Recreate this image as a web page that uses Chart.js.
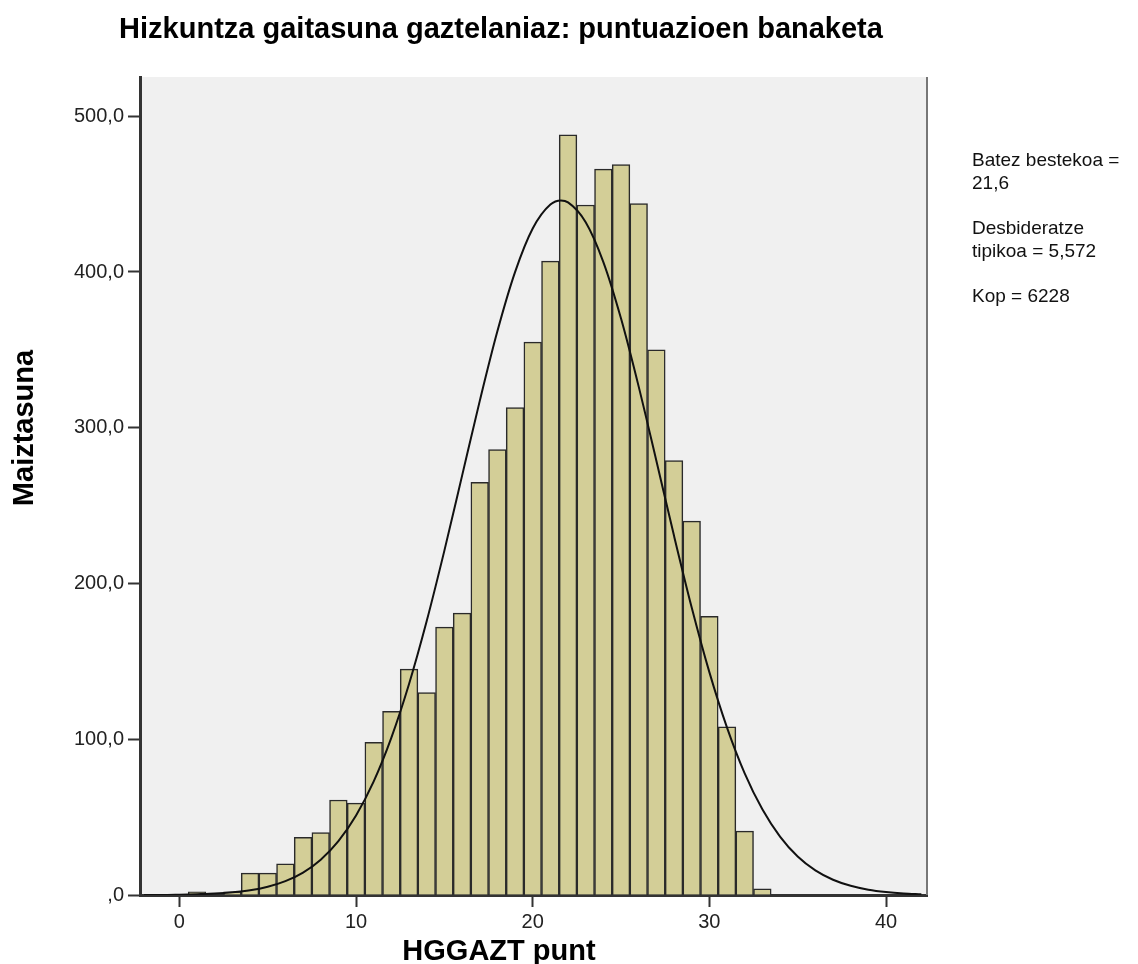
<!DOCTYPE html>
<html>
<head>
<meta charset="utf-8">
<script src="https://cdn.jsdelivr.net/npm/chart.js@4"></script>
<style>
    html, body { margin: 0; padding: 0; background: #ffffff; }
    #wrap { width: 1138px; height: 964px; position: relative; }
</style>
</head>
<body>
<div id="wrap"><canvas id="histChart" width="1138" height="964"></canvas></div>
<script>
// Histogram bins (score value) and counts
const binValues = [1, 3, 4, 5, 6, 7, 8, 9, 10, 11, 12, 13, 14, 15, 16, 17, 18, 19, 20,
    21, 22, 23, 24, 25, 26, 27, 28, 29, 30, 31, 32, 33];
const binCounts = [2, 2, 14, 14, 20, 37, 40, 61, 59, 98, 118, 145, 130, 172, 181, 265, 286, 313, 355,
    407, 488, 443, 466, 469, 444, 350, 279, 240, 179, 108, 41, 4];

// Normal curve as drawn over the bars (read at each score)
const curveX = [-2, -1, 0, 1, 2, 3, 4, 5, 6, 7, 8, 9, 10, 11, 12, 13, 14, 15, 16, 17, 18, 19, 20,
    21, 21.6, 22, 23, 24, 25, 26, 27, 28, 29, 30, 31, 32, 33, 34, 35, 36, 37, 38, 39, 40, 41, 42];
const curveY = [0, 0, 0.2, 0.5, 0.9, 1.7, 3.0, 5.3, 8.9, 14.4, 22.7, 34.6, 51.1, 73.0, 101.1, 135.5,
    175.9, 221.1, 269.1, 317.1, 361.9, 399.9, 427.9, 443.3, 445.9, 444.7, 432.0, 406.4, 370.1, 326.4,
    278.8, 230.6, 184.6, 143.1, 107.5, 78.1, 55.0, 37.5, 24.7, 15.8, 9.8, 5.9, 3.4, 1.9, 1.0, 0.5];

// Axis ranges and labels
const xTicks = [0, 10, 20, 30, 40];
const yTicks = [0, 100, 200, 300, 400, 500];
const xMin = -2.23;
const xMax = 42.32;
const yMax = 525.2;

const chartTitle = 'Hizkuntza gaitasuna gaztelaniaz: puntuazioen banaketa';
const xTitle = 'HGGAZT punt';
const yTitle = 'Maiztasuna';
const statLines = [
    ['Batez bestekoa =', '21,6'],
    ['Desbideratze', 'tipikoa = 5,572'],
    ['Kop = 6228']
];

const FONT = '"Liberation Sans", Arial, sans-serif';

// Plot background, right border and the free text around the plot
const decorPlugin = {
    id: 'decor',
    beforeDraw(chart) {
        const { ctx, chartArea } = chart;
        ctx.save();
        ctx.fillStyle = '#f0f0f0';
        ctx.fillRect(chartArea.left, chartArea.top, chartArea.right - chartArea.left, chartArea.bottom - chartArea.top);
        ctx.restore();
    },
    afterDraw(chart) {
        const { ctx, chartArea } = chart;
        ctx.save();
        // right frame line
        ctx.strokeStyle = '#777777';
        ctx.lineWidth = 2;
        ctx.beginPath();
        ctx.moveTo(chartArea.right, chartArea.top);
        ctx.lineTo(chartArea.right, chartArea.bottom);
        ctx.stroke();

        ctx.fillStyle = '#000000';
        ctx.font = 'bold 29px ' + FONT;
        ctx.textAlign = 'center';
        ctx.textBaseline = 'alphabetic';
        ctx.fillText(chartTitle, 501, 38);
        ctx.fillText(xTitle, 499, 960);

        ctx.save();
        ctx.translate(33, 428);
        ctx.rotate(-Math.PI / 2);
        ctx.fillText(yTitle, 0, 0);
        ctx.restore();

        ctx.font = '19px ' + FONT;
        ctx.textAlign = 'left';
        ctx.fillStyle = '#111111';
        let y = 166;
        statLines.forEach(group => {
            group.forEach(line => {
                ctx.fillText(line, 972, y);
                y += 23;
            });
            y += 22;
        });
        ctx.restore();
    }
};

function renderChart() {
    const ctx = document.getElementById('histChart').getContext('2d');
    new Chart(ctx, {
        data: {
            datasets: [{
                type: 'line',
                data: curveX.map((x, i) => ({ x: x, y: curveY[i] })),
                borderColor: '#111111',
                borderWidth: 2,
                pointRadius: 0,
                cubicInterpolationMode: 'monotone',
                order: 0
            }, {
                type: 'bar',
                data: binValues.map((x, i) => ({ x: x, y: binCounts[i] })),
                backgroundColor: '#d3ce97',
                borderColor: '#2a2a2a',
                borderWidth: 1.5,
                barPercentage: 1,
                categoryPercentage: 1,
                order: 1
            }]
        },
        options: {
            responsive: false,
            animation: false,
            layout: { padding: { left: 0, top: 77, right: 211, bottom: 0 } },
            plugins: {
                legend: { display: false },
                tooltip: { enabled: false }
            },
            scales: {
                x: {
                    type: 'linear',
                    min: xMin,
                    max: xMax,
                    offset: false,
                    afterBuildTicks: scale => { scale.ticks = xTicks.map(v => ({ value: v })); },
                    afterFit: scale => { scale.height = 69; },
                    grid: { offset: false, drawOnChartArea: false, drawTicks: true, tickLength: 12, tickColor: '#333333', tickWidth: 2 },
                    border: { display: true, color: '#333333', width: 3 },
                    ticks: {
                        color: '#222222',
                        font: { family: FONT, size: 20 },
                        padding: 3,
                        maxRotation: 0
                    }
                },
                y: {
                    min: 0,
                    max: yMax,
                    afterBuildTicks: scale => { scale.ticks = yTicks.map(v => ({ value: v })); },
                    afterFit: scale => { scale.width = 140; },
                    grid: { drawOnChartArea: false, drawTicks: true, tickLength: 12, tickColor: '#333333', tickWidth: 2 },
                    border: { display: true, color: '#333333', width: 3 },
                    ticks: {
                        color: '#222222',
                        font: { family: FONT, size: 20 },
                        padding: 4,
                        callback: v => v === 0 ? ',0' : v.toFixed(1).replace('.', ',')
                    }
                }
            }
        },
        plugins: [decorPlugin]
    });
}

renderChart();
</script>
</body>
</html>
